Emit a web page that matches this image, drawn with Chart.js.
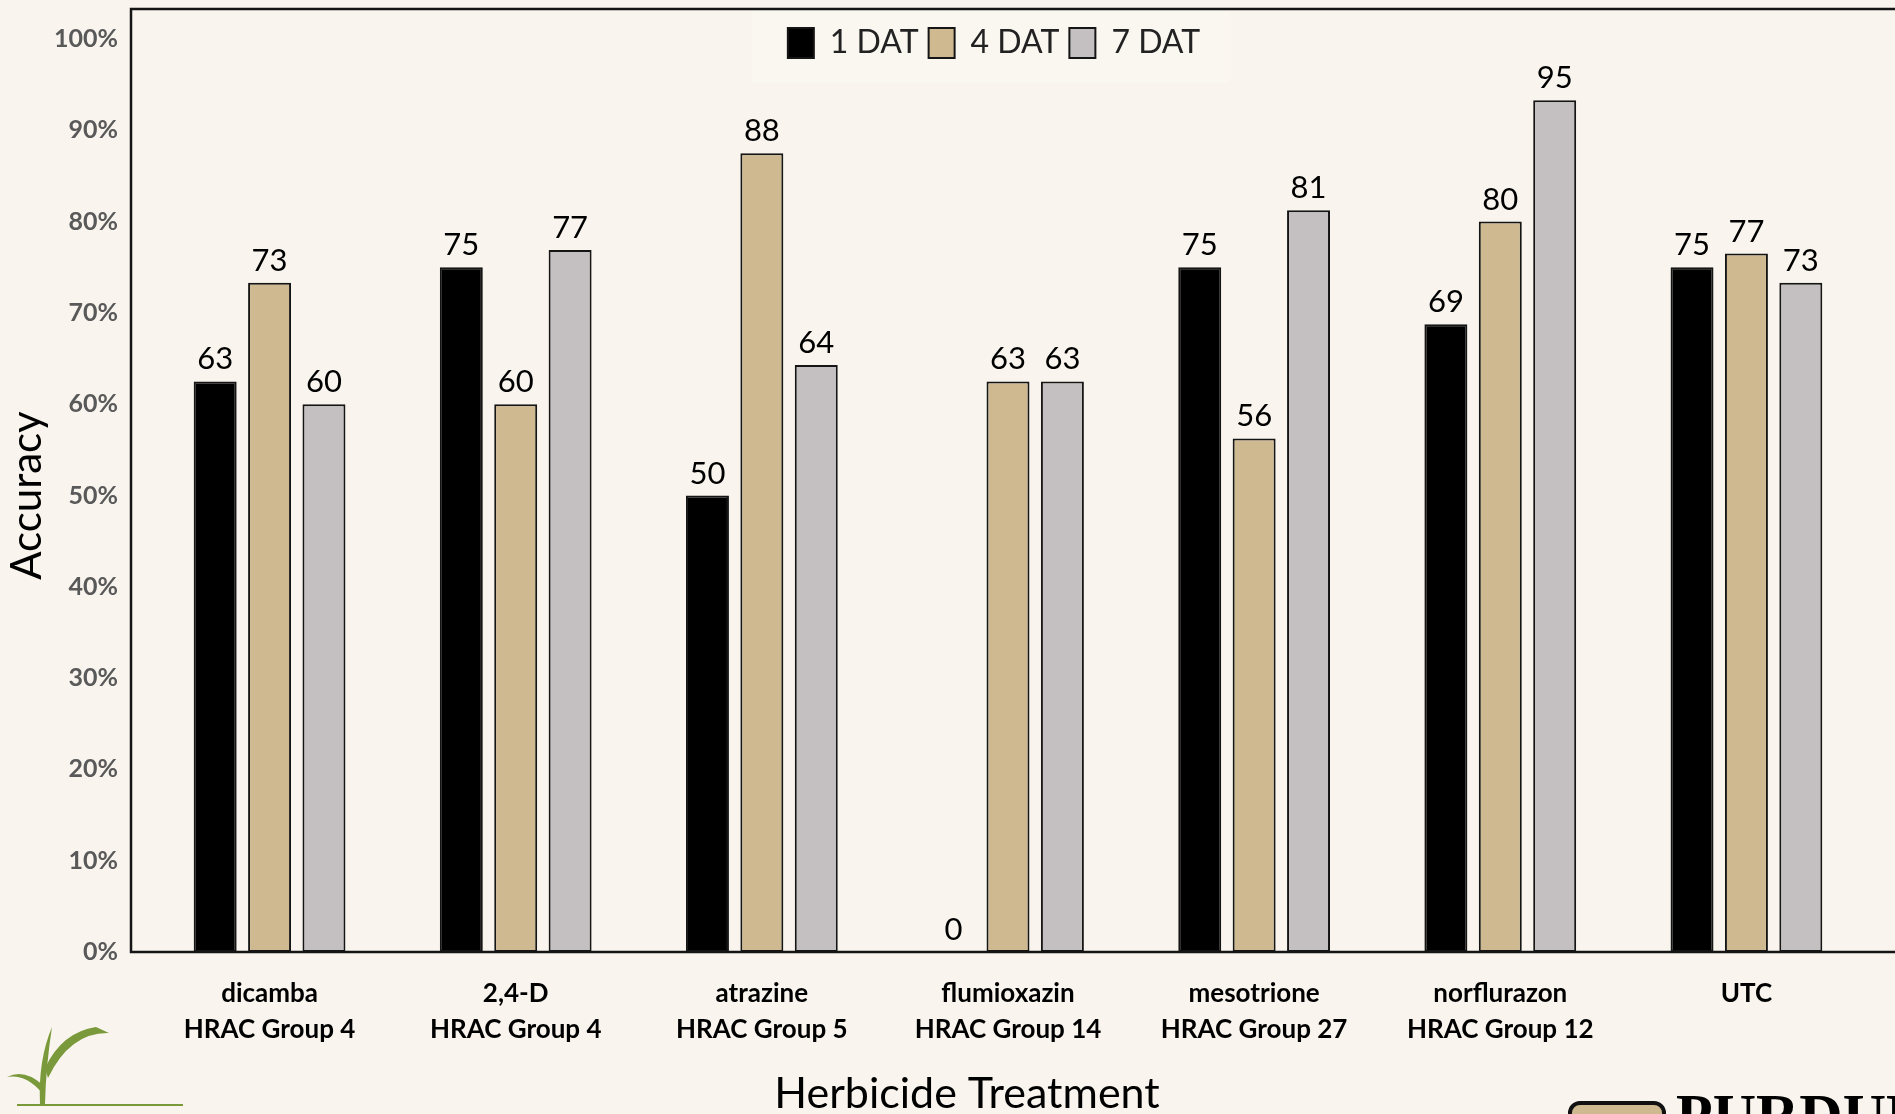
<!DOCTYPE html>
<html>
<head>
<meta charset="utf-8">
<title>Accuracy by Herbicide Treatment</title>
<script src="https://cdn.jsdelivr.net/npm/chart.js@4.4.1/dist/chart.umd.min.js"></script>
<style>
  html, body { margin: 0; padding: 0; background: #f9f5ee; }
  canvas { display: block; }
</style>
</head>
<body>
<canvas id="chart" width="1895" height="1114"></canvas>
<script>
const treatments = [
  ['dicamba', 'HRAC Group 4'],
  ['2,4-D', 'HRAC Group 4'],
  ['atrazine', 'HRAC Group 5'],
  ['flumioxazin', 'HRAC Group 14'],
  ['mesotrione', 'HRAC Group 27'],
  ['norflurazon', 'HRAC Group 12'],
  ['UTC']
];
const seriesNames = ['1 DAT', '4 DAT', '7 DAT'];
const seriesColors = ['#000000', '#cfb991', '#c4bfc0'];

// bar heights (accuracy, %)
const dat1 = [62.5, 75, 50, 0, 75, 68.75, 75];
const dat4 = [73.3, 60, 87.5, 62.5, 56.25, 80, 76.5];
const dat7 = [60, 76.9, 64.3, 62.5, 81.25, 93.3, 73.3];

// numbers printed above the bars on the slide
const dat1Labels = ['63', '75', '50', '0', '75', '69', '75'];
const dat4Labels = ['73', '60', '88', '63', '56', '80', '77'];
const dat7Labels = ['60', '77', '64', '63', '81', '95', '73'];

const yTicks = [0, 10, 20, 30, 40, 50, 60, 70, 80, 90, 100];
const xTitle = 'Herbicide Treatment';
const yTitle = 'Accuracy';

const FONT = 'Lato';
const BG = '#f9f5ee';

// legend is laid over the plot instead of taking its own row
const overlayLegend = {
  id: 'overlayLegend',
  beforeLayout(chart) {
    const lg = chart.legend;
    if (lg && !lg._overlay) {
      const fit = lg.fit;
      lg.fit = function () {
        fit.call(this);
        this._realHeight = this.height;
        this.height = 0;
      };
      lg._overlay = true;
    }
  },
  afterLayout(chart) {
    const lg = chart.legend;
    if (!lg) return;
    const w = lg.width;
    const cx = 994;
    lg.left = cx - w / 2;
    lg.right = cx + w / 2;
    lg.top = 17;
    lg.height = lg._realHeight;
    lg.bottom = lg.top + lg.height;
  }
};

const background = {
  id: 'background',
  beforeDraw(chart) {
    const ctx = chart.ctx;
    ctx.save();
    ctx.fillStyle = BG;
    ctx.fillRect(0, 0, chart.width, chart.height);
    // faint lighter panel behind the legend
    ctx.fillStyle = '#faf7f1';
    ctx.fillRect(752, 11, 478, 72);
    ctx.restore();
  }
};

const frame = {
  id: 'frame',
  afterDatasetsDraw(chart) {
    const { ctx, chartArea } = chart;
    const left = chartArea.left - 15.5;
    const top = chartArea.top - 30;
    ctx.save();
    ctx.strokeStyle = '#151515';
    ctx.lineWidth = 2.5;
    ctx.beginPath();
    ctx.moveTo(chart.width, top);
    ctx.lineTo(left, top);
    ctx.lineTo(left, chartArea.bottom);
    ctx.lineTo(chart.width, chartArea.bottom);
    ctx.stroke();
    ctx.restore();
  }
};

const valueLabels = {
  id: 'valueLabels',
  afterDatasetsDraw(chart) {
    const ctx = chart.ctx;
    ctx.save();
    ctx.font = '31px ' + FONT;
    ctx.fillStyle = '#000';
    ctx.textAlign = 'center';
    ctx.textBaseline = 'alphabetic';
    chart.data.datasets.forEach((ds, i) => {
      chart.getDatasetMeta(i).data.forEach((bar, j) => {
        ctx.fillText(ds.valueLabels[j], bar.x, bar.y - 12);
      });
    });
    // x axis title sits a little left of the plot centre on the slide
    ctx.font = '43px ' + FONT;
    ctx.textBaseline = 'middle';
    ctx.fillText(xTitle, 967, 1094);
    ctx.restore();
  }
};

// partial logos cut by the slide edge
const logos = {
  id: 'logos',
  afterDraw(chart) {
    const ctx = chart.ctx;
    ctx.save();
    // plant, bottom left
    ctx.fillStyle = '#79993a';
    ctx.strokeStyle = '#79993a';
    ctx.beginPath();
    ctx.moveTo(40, 1104);
    ctx.quadraticCurveTo(38, 1060, 52, 1027);
    ctx.quadraticCurveTo(46, 1065, 45, 1104);
    ctx.closePath();
    ctx.fill();
    ctx.beginPath();
    ctx.moveTo(45, 1068);
    ctx.quadraticCurveTo(62, 1032, 96, 1027);
    ctx.lineTo(109, 1033);
    ctx.quadraticCurveTo(70, 1032, 48, 1078);
    ctx.closePath();
    ctx.fill();
    ctx.beginPath();
    ctx.moveTo(43, 1085);
    ctx.quadraticCurveTo(24, 1068, 7, 1077);
    ctx.quadraticCurveTo(26, 1074, 42, 1093);
    ctx.closePath();
    ctx.fill();
    ctx.lineWidth = 2;
    ctx.beginPath();
    ctx.moveTo(17, 1105);
    ctx.lineTo(183, 1105);
    ctx.stroke();
    // Purdue mark, bottom right
    ctx.fillStyle = '#cfb991';
    ctx.strokeStyle = '#111';
    ctx.lineWidth = 4;
    ctx.beginPath();
    ctx.roundRect(1570, 1103, 94, 60, 10);
    ctx.fill();
    ctx.stroke();
    ctx.fillStyle = '#000';
    ctx.font = 'bold 60px "Liberation Serif"';
    ctx.textBaseline = 'alphabetic';
    ctx.fillText('PURDUE', 1676, 1135);
    ctx.restore();
  }
};

const datasets = [dat1, dat4, dat7].map((values, i) => ({
  label: seriesNames[i],
  data: values,
  valueLabels: [dat1Labels, dat4Labels, dat7Labels][i],
  backgroundColor: seriesColors[i],
  borderColor: '#151515',
  borderWidth: 2,
  borderSkipped: false,
  categoryPercentage: 0.663,
  barPercentage: 0.79
}));

new Chart(document.getElementById('chart'), {
  type: 'bar',
  data: { labels: treatments, datasets: datasets },
  options: {
    responsive: false,
    animation: false,
    layout: { padding: { top: 39, right: 25.5, bottom: 0, left: 0 } },
    plugins: {
      tooltip: { enabled: false },
      legend: {
        position: 'top',
        labels: {
          boxWidth: 26,
          boxHeight: 30,
          padding: 10,
          color: '#222',
          font: { family: FONT, size: 32 }
        }
      }
    },
    scales: {
      x: {
        grid: { display: false },
        border: { display: false },
        ticks: {
          color: '#000',
          autoSkip: false,
          maxRotation: 0,
          padding: 15,
          font: { family: FONT, size: 26, weight: 'bold', lineHeight: 1.4 }
        },
        title: { display: false, text: xTitle },
        afterFit(scale) { scale.height = 162; }
      },
      y: {
        min: 0,
        max: 100,
        grid: { display: false, drawTicks: false },
        border: { display: false },
        afterBuildTicks(scale) {
          scale.ticks = yTicks.map(v => ({ value: v }));
        },
        ticks: {
          color: '#595959',
          padding: 28.5,
          font: { family: FONT, size: 25, weight: 'bold' },
          callback: v => v + '%'
        },
        title: {
          display: true,
          text: yTitle,
          color: '#000',
          padding: { top: 6, bottom: 0 },
          font: { family: FONT, size: 42, lineHeight: 1 }
        },
        afterFit(scale) {
          scale.width = 146.5;
          // tick padding would otherwise push the plot top down
          scale.paddingTop = 0;
          scale.paddingBottom = 0;
        }
      }
    }
  },
  plugins: [background, overlayLegend, frame, valueLabels, logos]
});
</script>
</body>
</html>
